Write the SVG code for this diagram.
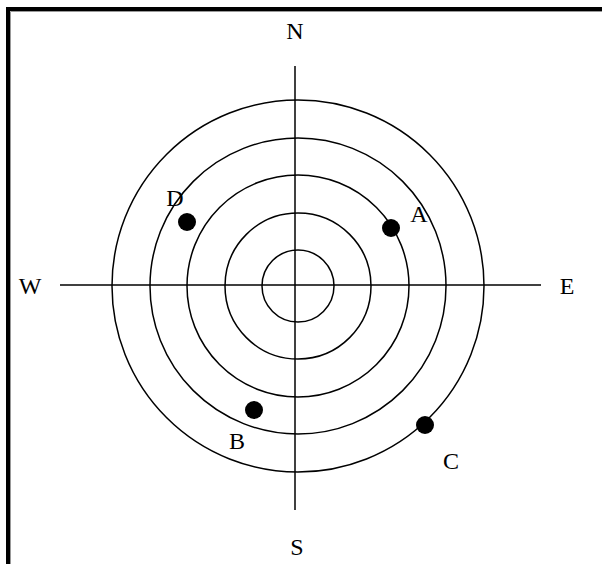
<svg xmlns="http://www.w3.org/2000/svg" width="602" height="564" viewBox="0 0 602 564">
<style>
.ring{fill:none;stroke:#000;stroke-width:1.5}
.ax{stroke:#000;stroke-width:1.5}
.dot{fill:#000}
text{font-family:"Liberation Serif","Times New Roman",serif;font-size:24px;fill:#000;text-anchor:middle}
</style>
<rect x="0" y="0" width="602" height="564" fill="#fff"/>
<path d="M8 564 V9 H602" fill="none" stroke="#000" stroke-width="4"/>
<path d="M10.5 564 V11.5 H602" fill="none" stroke="#999" stroke-width="1"/>
<g id="rings">
<circle class="ring" cx="298" cy="286" r="36"/>
<circle class="ring" cx="298" cy="286" r="73"/>
<circle class="ring" cx="298" cy="286" r="111"/>
<circle class="ring" cx="298" cy="286" r="148"/>
<circle class="ring" cx="298" cy="286" r="186"/>
</g>
<g id="connectors">
<line class="ax" x1="295" y1="66" x2="295" y2="510"/>
<line class="ax" x1="60" y1="285" x2="541" y2="285"/>
</g>
<g id="labels">
<text x="295" y="39">N</text>
<text x="297" y="555">S</text>
<text x="30" y="294">W</text>
<text x="567" y="294">E</text>
</g>
<g id="A"><circle class="dot" cx="391" cy="228" r="9"/><text x="419" y="222">A</text></g>
<g id="B"><circle class="dot" cx="254" cy="410" r="9"/><text x="237" y="449">B</text></g>
<g id="C"><circle class="dot" cx="425" cy="425" r="9"/><text x="451" y="469">C</text></g>
<g id="D"><circle class="dot" cx="187" cy="222" r="9"/><text x="175" y="206">D</text></g>
</svg>
